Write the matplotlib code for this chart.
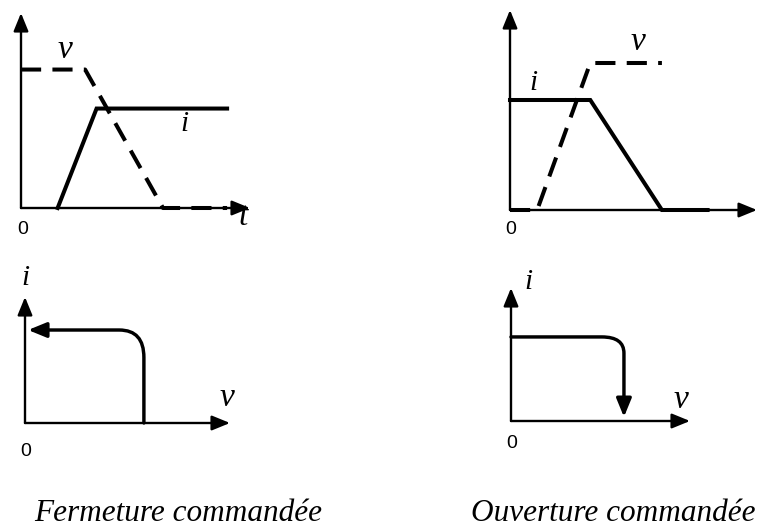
import matplotlib
matplotlib.use("Agg")
import matplotlib.pyplot as plt
from matplotlib.path import Path
from matplotlib.patches import FancyArrowPatch

W, H = 758, 528

# ---------------- data (panel-local units, 0..10) ----------------
# Top-left: Fermeture commandée, time domain
f_v_t = [0.0, 2.8, 6.2, 9.0]
f_v = [7.1, 7.1, 0.0, 0.0]
f_i_t = [1.6, 3.3, 9.0]
f_i = [0.0, 5.1, 5.1]
# Top-right: Ouverture commandée, time domain
o_v_t = [0.0, 1.1, 3.25, 6.15]
o_v = [0.0, 0.0, 7.35, 7.35]
o_i_t = [0.0, 3.25, 6.15, 8.0]
o_i = [5.5, 5.5, 0.0, 0.0]
# Bottom-left: switching trajectory (v, i), fermeture
f_traj_v = [5.8, 5.8, 5.8, 4.6, 0.15]
f_traj_i = [0.0, 5.2, 7.38, 7.38, 7.38]
# Bottom-right: switching trajectory (v, i), ouverture
o_traj_v = [0.0, 5.08, 6.31, 6.31, 6.31]
o_traj_i = [6.32, 6.32, 6.32, 5.1, 0.3]

titles = ["Fermeture commandée", "Ouverture commandée"]

fig = plt.figure(figsize=(W / 100, H / 100), dpi=100)
fig.patch.set_facecolor("white")


def make_ax(left, right, bottom, top):
    ax = fig.add_axes([left / W, (H - bottom) / H, (right - left) / W, (bottom - top) / H])
    ax.set_xlim(0, 10)
    ax.set_ylim(0, 10)
    ax.axis("off")
    return ax


AX_LW = 1.7
CUR_LW = 2.9
HEAD = "-|>,head_length=1.1,head_width=0.45"
arrow_kw = dict(arrowstyle=HEAD, mutation_scale=10,
                color="black", lw=AX_LW, shrinkA=0, shrinkB=0)
DASH = (0, (5.0, 2.8))


def draw_axes(ax):
    ax.add_patch(FancyArrowPatch((0, 0), (10, 0), clip_on=False, **arrow_kw))
    ax.add_patch(FancyArrowPatch((0, 0), (0, 10), clip_on=False, **arrow_kw))


v_font = dict(family="Liberation Serif", style="italic", fontsize=24, color="black")
i_font = dict(family="Liberation Serif", style="italic", fontsize=21, color="black")
zero_font = dict(family="Liberation Sans", fontsize=14, color="black")


def px_text(x, y, s, va="center", **kw):
    fig.text(x / W, (H - y) / H, s, ha="center", va=va, **kw)


# ---- Top-left ----
ax1 = make_ax(21, 250, 208, 13)
draw_axes(ax1)
ax1.plot(f_v_t, f_v, color="black", lw=CUR_LW, ls=DASH, dash_capstyle="butt", clip_on=False)
ax1.plot(f_i_t, f_i, color="black", lw=CUR_LW, clip_on=False, solid_joinstyle="miter")
px_text(65, 50, "v", **v_font)
px_text(184, 124, "i", **i_font)
px_text(243, 217, "t", **v_font)
px_text(23, 229, "0", **zero_font)

# ---- Top-right ----
ax2 = make_ax(510, 757, 210, 10)
draw_axes(ax2)
ax2.plot(o_v_t, o_v, color="black", lw=CUR_LW, ls=DASH, dash_capstyle="butt", clip_on=False)
ax2.plot(o_i_t, o_i, color="black", lw=CUR_LW, clip_on=False, solid_joinstyle="miter")
px_text(638, 42, "v", **v_font)
px_text(533, 83, "i", **i_font)
px_text(511, 230, "0", **zero_font)

# ---- Bottom-left ----
ax3 = make_ax(25, 230, 423, 297)
draw_axes(ax3)
codes3 = [Path.MOVETO, Path.LINETO, Path.CURVE3, Path.CURVE3, Path.LINETO]
path3 = Path(list(zip(f_traj_v, f_traj_i)), codes3)
ax3.add_patch(FancyArrowPatch(path=path3, arrowstyle=HEAD, mutation_scale=10, color="black",
                              lw=CUR_LW * 0.85, shrinkA=0, shrinkB=0, clip_on=False))
px_text(25, 278, "i", **i_font)
px_text(227, 398, "v", **v_font)
px_text(26, 451, "0", **zero_font)

# ---- Bottom-right ----
ax4 = make_ax(511, 690, 421, 288)
draw_axes(ax4)
codes4 = [Path.MOVETO, Path.LINETO, Path.CURVE3, Path.CURVE3, Path.LINETO]
path4 = Path(list(zip(o_traj_v, o_traj_i)), codes4)
ax4.add_patch(FancyArrowPatch(path=path4, arrowstyle=HEAD, mutation_scale=10, color="black",
                              lw=CUR_LW * 0.85, shrinkA=0, shrinkB=0, clip_on=False))
px_text(528, 282, "i", **i_font)
px_text(681, 400, "v", **v_font)
px_text(512, 443, "0", **zero_font)

# ---- titles ----
title_font = dict(family="Liberation Serif", style="italic", fontsize=22.5, color="black")
px_text(178, 521, titles[0], va="baseline", **title_font)
px_text(613, 521, titles[1], va="baseline", **title_font)

fig.savefig("out.png", dpi=100, facecolor="white")
